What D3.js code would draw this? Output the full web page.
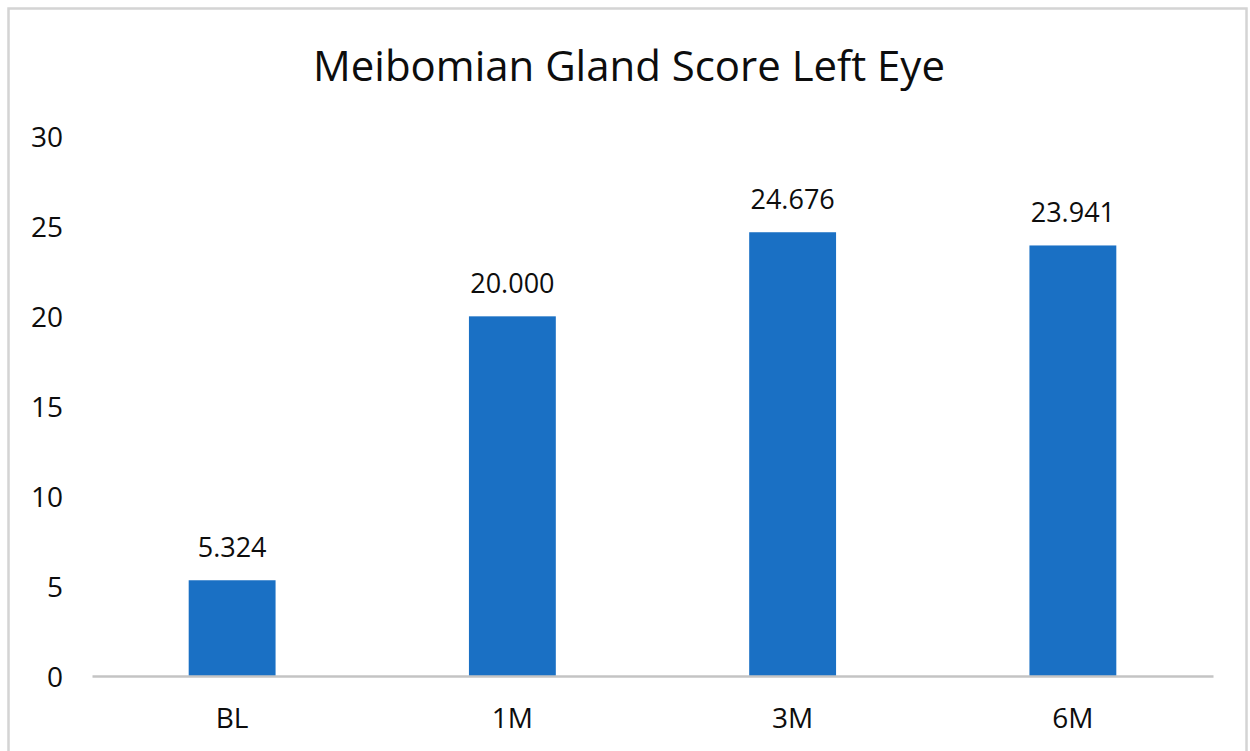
<!DOCTYPE html>
<html>
<head>
<meta charset="utf-8">
<script src="https://cdn.jsdelivr.net/npm/d3@7"></script>
<style>
  html, body { margin: 0; padding: 0; background: #fff; }
  svg { display: block; }
</style>
</head>
<body>
<svg id="chart" width="1250" height="751"></svg>
<script>
const categories = ["BL", "1M", "3M", "6M"];
const values = [5.324, 20.000, 24.676, 23.941];
const yTicks = [0, 5, 10, 15, 20, 25, 30];
const title = "Meibomian Gland Score Left Eye";

const W = 1250, H = 751;
const font = "'Open Sans', 'Noto Sans', sans-serif";
const svg = d3.select("#chart");

// chart frame
svg.append("rect")
  .attr("x", 8.5).attr("y", 8.5)
  .attr("width", 1238).attr("height", 760)
  .attr("fill", "#fff").attr("stroke", "#d4d4d4").attr("stroke-width", 2.5);

const plot = { left: 92, right: 1213, top: 136.5, bottom: 676 };

const x = d3.scaleBand().domain(categories)
  .range([plot.left, plot.right]).paddingInner(0.69).paddingOuter(0.345);
const y = d3.scaleLinear().domain([0, 30]).range([plot.bottom, plot.top]);

// title
const t = svg.append("text")
  .attr("x", 629).attr("y", 81)
  .attr("text-anchor", "middle")
  .attr("font-family", font).attr("font-size", 40)
  .attr("fill", "#0d0d0d").text(title);
const tw = t.node().getComputedTextLength();
t.attr("font-size", 40 * 632 / tw);

// y axis labels
const yAxis = d3.axisLeft(y).tickValues(yTicks).tickSize(0).tickPadding(0).tickFormat(d3.format("d"));
const yg = svg.append("g").attr("transform", `translate(63,0)`).call(yAxis);
yg.select(".domain").remove();
yg.selectAll("text")
  .attr("font-family", font).attr("font-size", 28).attr("fill", "#0d0d0d")
  .attr("dy", "0.36em");

// bars
svg.append("g").selectAll("rect").data(values).join("rect")
  .attr("x", (d, i) => x(categories[i]))
  .attr("y", d => y(d))
  .attr("width", x.bandwidth())
  .attr("height", d => y(0) - y(d))
  .attr("fill", "#1a70c4");

// x axis baseline and labels
const xAxis = d3.axisBottom(x).tickSize(0).tickPadding(0);
const xg = svg.append("g").attr("transform", `translate(0,${plot.bottom})`).call(xAxis);
xg.select(".domain").attr("stroke", "#c4c4c4").attr("stroke-width", 2.5);
xg.selectAll("text")
  .attr("font-family", font).attr("font-size", 28).attr("fill", "#0d0d0d")
  .attr("y", 42).attr("dy", "0.36em");

// data labels
svg.append("g").selectAll("text").data(values).join("text")
  .attr("x", (d, i) => x(categories[i]) + x.bandwidth() / 2)
  .attr("y", d => y(d) - 23)
  .attr("text-anchor", "middle")
  .attr("font-family", font).attr("font-size", 27).attr("fill", "#0d0d0d")
  .text(d => d3.format(".3f")(d));
</script>
</body>
</html>
